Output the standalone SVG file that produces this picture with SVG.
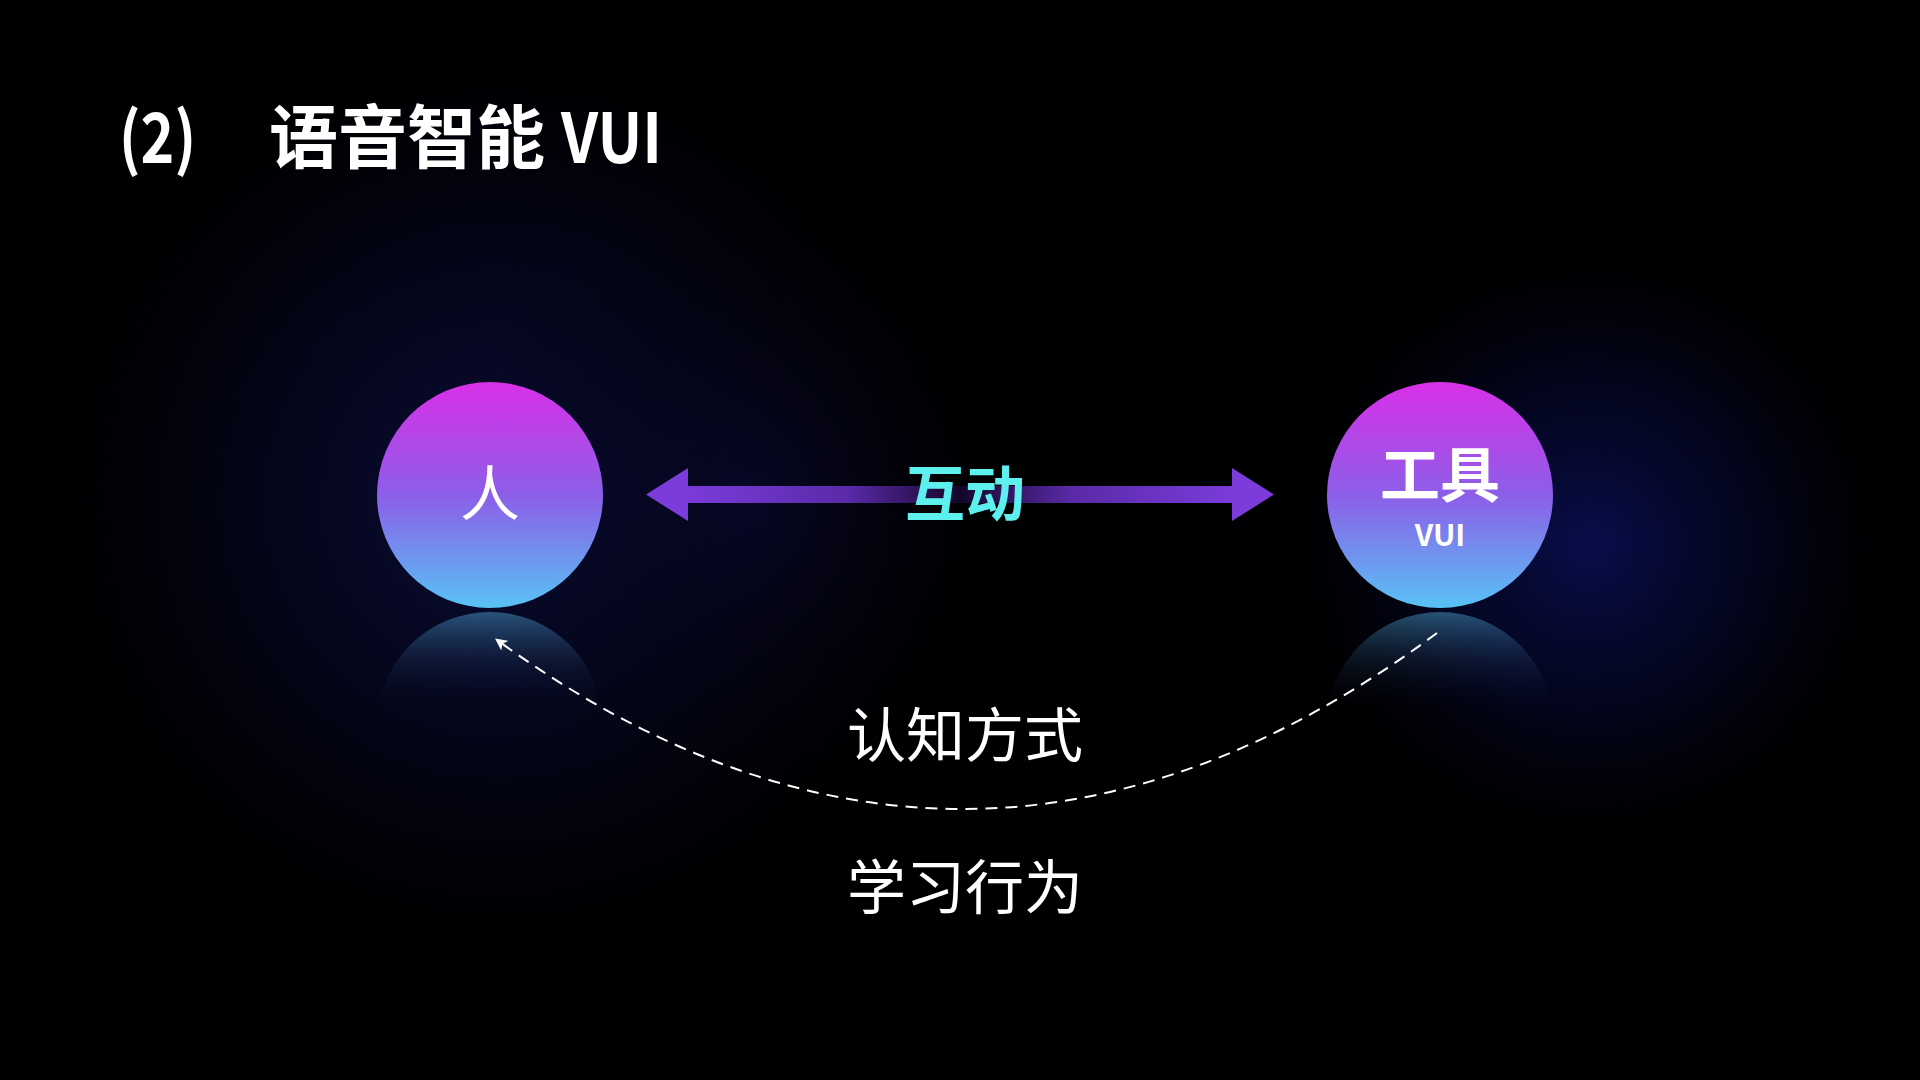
<svg xmlns="http://www.w3.org/2000/svg" width="1920" height="1080" viewBox="0 0 1920 1080">
  <defs>
    <style>
      .cjk { font-family: "Noto Sans CJK SC", "Noto Sans", sans-serif; }
      .title { font-size: 69px; font-weight: 700; fill: #ffffff; }
      .node-label { font-size: 60px; fill: #ffffff; text-anchor: middle; }
      .sub-label { font-size: 30px; font-weight: 700; fill: #ffffff; text-anchor: middle; }
      .mid-label { font-size: 60px; font-weight: 700; fill: #5ef0ee; text-anchor: middle; }
      .caption { font-size: 59px; fill: #ffffff; text-anchor: middle; }
      .dash { fill: none; stroke: #ffffff; stroke-width: 2; stroke-dasharray: 12 8; }
    </style>
    <linearGradient id="ballGrad" x1="0" y1="0" x2="0" y2="1">
      <stop offset="0" stop-color="#d930e8"/>
      <stop offset="0.5" stop-color="#8c5ee8"/>
      <stop offset="1" stop-color="#58c2f4"/>
    </linearGradient>
    <linearGradient id="reflGrad" gradientUnits="userSpaceOnUse" x1="0" y1="611" x2="0" y2="705">
      <stop offset="0" stop-color="#5ac0f5" stop-opacity="0.42"/>
      <stop offset="0.55" stop-color="#3a6aa0" stop-opacity="0.15"/>
      <stop offset="1" stop-color="#1a2a60" stop-opacity="0"/>
    </linearGradient>
    <linearGradient id="shaftGrad" gradientUnits="userSpaceOnUse" x1="680" y1="0" x2="1240" y2="0">
      <stop offset="0" stop-color="#7c3cdc"/>
      <stop offset="0.3" stop-color="#5a2aa8"/>
      <stop offset="0.5" stop-color="#14062a"/>
      <stop offset="0.7" stop-color="#5a2aa8"/>
      <stop offset="1" stop-color="#7c3cdc"/>
    </linearGradient>
    <radialGradient id="glowLeft" gradientUnits="userSpaceOnUse" cx="500" cy="500" r="520">
      <stop offset="0" stop-color="#0c1048" stop-opacity="0.8"/>
      <stop offset="0.5" stop-color="#080a30" stop-opacity="0.45"/>
      <stop offset="1" stop-color="#000000" stop-opacity="0"/>
    </radialGradient>
    <radialGradient id="glowRight" gradientUnits="userSpaceOnUse" cx="1590" cy="545" r="330">
      <stop offset="0" stop-color="#0a1058" stop-opacity="0.85"/>
      <stop offset="0.5" stop-color="#060a38" stop-opacity="0.5"/>
      <stop offset="1" stop-color="#000000" stop-opacity="0"/>
    </radialGradient>
    <radialGradient id="glowMid" gradientUnits="userSpaceOnUse" cx="750" cy="500" r="300">
      <stop offset="0" stop-color="#0a0830" stop-opacity="0.6"/>
      <stop offset="1" stop-color="#000000" stop-opacity="0"/>
    </radialGradient>
    <marker id="tip" viewBox="0 0 10 10" refX="8" refY="5" markerWidth="6" markerHeight="6" orient="auto" markerUnits="strokeWidth">
      <path d="M0,0 L10,5 L0,10 L2.5,5 Z" fill="#ffffff"/>
    </marker>
  </defs>

  <rect x="0" y="0" width="1920" height="1080" fill="#000000"/>
  <g id="background-glow">
    <ellipse cx="500" cy="500" rx="520" ry="460" fill="url(#glowLeft)"/>
    <ellipse cx="750" cy="500" rx="300" ry="300" fill="url(#glowMid)"/>
    <ellipse cx="1590" cy="545" rx="330" ry="330" fill="url(#glowRight)"/>
  </g>

  <g id="title">
    <text class="cjk title" x="119" y="163" textLength="77" lengthAdjust="spacingAndGlyphs">(2)</text>
    <text class="cjk title" x="269" y="163">语音智能</text>
    <text class="cjk title" x="561" y="163" textLength="101" lengthAdjust="spacingAndGlyphs">VUI</text>
  </g>

  <g id="node-person">
    <circle cx="490" cy="725" r="113" fill="url(#reflGrad)"/>
    <circle cx="490" cy="495" r="113" fill="url(#ballGrad)"/>
    <text class="cjk node-label" x="490" y="516">人</text>
  </g>

  <g id="node-tool">
    <circle cx="1440" cy="725" r="113" fill="url(#reflGrad)"/>
    <circle cx="1440" cy="495" r="113" fill="url(#ballGrad)"/>
    <text class="cjk node-label" font-weight="700" x="1440" y="497">工具</text>
    <text class="cjk sub-label" x="1440" y="546">VUI</text>
  </g>

  <g id="connectors">
    <g id="interaction-arrow">
      <rect x="686" y="486" width="548" height="17" fill="url(#shaftGrad)"/>
      <path d="M646,494.5 L688,468 L688,521 Z" fill="#7c3cdc"/>
      <path d="M1274,494.5 L1232,468 L1232,521 Z" fill="#7c3cdc"/>
    </g>
    <path id="learning-curve" class="dash" d="M1437,633 Q967,981.5 497,640" marker-end="url(#tip)"/>
  </g>

  <g id="labels">
    <text class="cjk mid-label" x="965" y="516">互动</text>
    <text class="cjk caption" x="965" y="757">认知方式</text>
    <text class="cjk caption" x="965" y="909">学习行为</text>
  </g>
</svg>
